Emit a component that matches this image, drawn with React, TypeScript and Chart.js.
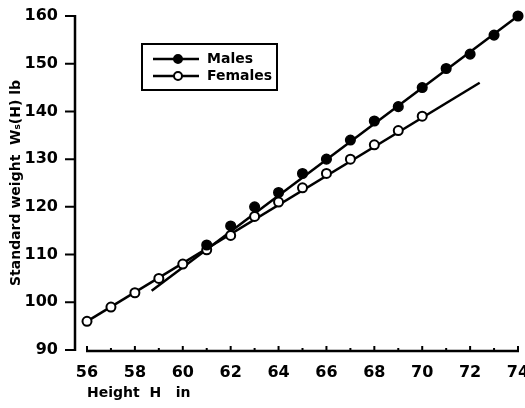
import React, { useEffect, useRef } from "react";
import { Chart, registerables } from "chart.js";

Chart.register(...registerables);

// ---- data ----
const maleHeights = [61, 62, 63, 64, 65, 66, 67, 68, 69, 70, 71, 72, 73, 74];
const maleWeights = [112, 116, 120, 123, 127, 130, 134, 138, 141, 145, 149, 152, 156, 160];

const femaleHeights = [56, 57, 58, 59, 60, 61, 62, 63, 64, 65, 66, 67, 68, 69, 70];
const femaleWeights = [96, 99, 102, 105, 108, 111, 114, 118, 121, 124, 127, 130, 133, 136, 139];

// straight fitted lines (end points)
const maleFitHeights = [58.7, 74];
const maleFitWeights = [102.4, 160];
const femaleFitHeights = [56, 72.4];
const femaleFitWeights = [96, 146];

const xTickValues = [56, 58, 60, 62, 64, 66, 68, 70, 72, 74];
const yTickValues = [90, 100, 110, 120, 130, 140, 150, 160];

const legendLabels = ["Males", "Females"];
const xTitle = "Height  H   in";
const yTitle = "Standard weight  Wₛ(H) lb";

const X_MIN = 56;
const X_MAX = 74;
const Y_MIN = 90;
const Y_MAX = 160;

const FONT = "'DejaVu Sans', sans-serif";

const toPoints = (xs: number[], ys: number[]) => xs.map((x, i) => ({ x, y: ys[i] }));

const axesPlugin = {
  id: "customAxes",
  beforeDatasetsDraw(chart: any) {
    const { ctx } = chart;
    const x = chart.scales.x;
    const y = chart.scales.y;
    const axisX = chart.chartArea.left - 12;
    const yTop = y.getPixelForValue(Y_MAX);
    const yBot = y.getPixelForValue(Y_MIN);
    ctx.save();
    ctx.strokeStyle = "#000";
    ctx.lineCap = "butt";
    // y axis
    ctx.lineWidth = 2.5;
    ctx.beginPath();
    ctx.moveTo(axisX, yTop - 1);
    ctx.lineTo(axisX, yBot + 1);
    ctx.stroke();
    ctx.lineWidth = 2;
    ctx.beginPath();
    yTickValues.forEach((v) => {
      const py = y.getPixelForValue(v);
      ctx.moveTo(axisX, py);
      ctx.lineTo(axisX - 10, py);
    });
    ctx.stroke();
    // x axis
    const axisY = yBot + 1;
    const xl = x.getPixelForValue(X_MIN);
    const xr = x.getPixelForValue(X_MAX);
    ctx.lineWidth = 2.5;
    ctx.beginPath();
    ctx.moveTo(xl - 1, axisY);
    ctx.lineTo(xr + 1, axisY);
    ctx.stroke();
    ctx.lineWidth = 2;
    ctx.beginPath();
    for (let v = X_MIN; v <= X_MAX; v++) {
      const px = x.getPixelForValue(v);
      const len = v % 2 === 0 ? 5 : 3;
      ctx.moveTo(px, axisY);
      ctx.lineTo(px, axisY - len);
    }
    ctx.stroke();
    ctx.restore();
  },
};

const legendPlugin = {
  id: "boxLegend",
  afterDatasetsDraw(chart: any) {
    const { ctx, chartArea } = chart;
    const left = chartArea.left + 55;
    const top = chartArea.top + 28;
    const w = 135;
    const h = 46;
    ctx.save();
    ctx.fillStyle = "#fff";
    ctx.fillRect(left, top, w, h);
    ctx.strokeStyle = "#000";
    ctx.lineWidth = 2;
    ctx.strokeRect(left, top, w, h);
    const fills = ["#000", "#fff"];
    legendLabels.forEach((label, i) => {
      const cy = top + 15 + i * 17;
      ctx.lineWidth = 2.5;
      ctx.beginPath();
      ctx.moveTo(left + 11, cy);
      ctx.lineTo(left + 57, cy);
      ctx.stroke();
      ctx.beginPath();
      ctx.arc(left + 36, cy, 4, 0, Math.PI * 2);
      ctx.fillStyle = fills[i];
      ctx.fill();
      ctx.lineWidth = 2;
      ctx.stroke();
      ctx.fillStyle = "#000";
      ctx.font = `bold 14px ${FONT}`;
      ctx.textBaseline = "middle";
      ctx.textAlign = "left";
      ctx.fillText(label, left + 65, cy + 0.5);
    });
    ctx.restore();
  },
};

export default function App() {
  const canvasRef = useRef<HTMLCanvasElement | null>(null);

  useEffect(() => {
    if (!canvasRef.current) return;
    const chart = new Chart(canvasRef.current, {
      type: "scatter",
      data: {
        datasets: [
          {
            label: legendLabels[0],
            data: toPoints(maleHeights, maleWeights),
            showLine: false,
            pointRadius: 4.8,
            pointBackgroundColor: "#000",
            pointBorderColor: "#000",
            pointBorderWidth: 1.5,
            clip: false,
            order: 0,
          },
          {
            label: legendLabels[1],
            data: toPoints(femaleHeights, femaleWeights),
            showLine: false,
            pointRadius: 4.5,
            pointBackgroundColor: "#fff",
            pointBorderColor: "#000",
            pointBorderWidth: 2,
            clip: false,
            order: 0,
          },
          {
            label: "male fit",
            data: toPoints(maleFitHeights, maleFitWeights),
            showLine: true,
            borderColor: "#000",
            borderWidth: 2.5,
            pointRadius: 0,
            clip: false,
            order: 1,
          },
          {
            label: "female fit",
            data: toPoints(femaleFitHeights, femaleFitWeights),
            showLine: true,
            borderColor: "#000",
            borderWidth: 2.5,
            pointRadius: 0,
            clip: false,
            order: 1,
          },
        ],
      },
      options: {
        animation: false,
        responsive: true,
        maintainAspectRatio: false,
        layout: { autoPadding: false, padding: { top: 0, right: 0, left: 0, bottom: 0 } },
        plugins: {
          legend: { display: false },
          tooltip: { enabled: false },
        },
        scales: {
          x: {
            type: "linear",
            min: X_MIN,
            max: X_MAX,
            grid: { display: false },
            border: { display: false },
            afterBuildTicks: (scale: any) => {
              scale.ticks = xTickValues.map((v) => ({ value: v }));
            },
            afterFit: (scale: any) => {
              scale.height = 58;
              scale.paddingRight = 7;
            },
            ticks: {
              color: "#000",
              font: { family: FONT, size: 16, weight: "bold" },
              padding: 5,
              maxRotation: 0,
            },
            title: {
              display: true,
              text: xTitle,
              align: "start",
              color: "#000",
              font: { family: FONT, size: 14, weight: "bold" },
              padding: { top: 0, bottom: 6 },
            },
          },
          y: {
            type: "linear",
            min: Y_MIN,
            max: Y_MAX,
            grid: { display: false },
            border: { display: false },
            afterBuildTicks: (scale: any) => {
              scale.ticks = yTickValues.map((v) => ({ value: v }));
            },
            afterFit: (scale: any) => {
              scale.width = 87;
              scale.paddingTop = 16;
            },
            ticks: {
              color: "#000",
              font: { family: FONT, size: 16, weight: "bold" },
              padding: 21,
            },
            title: {
              display: true,
              text: yTitle,
              color: "#000",
              font: { family: FONT, size: 14, weight: "bold" },
              padding: { top: 8, bottom: 0 },
            },
          },
        },
      },
      plugins: [axesPlugin, legendPlugin],
    });
    return () => chart.destroy();
  }, []);

  return (
    <div style={{ position: "absolute", left: 0, top: 0, width: 525, height: 408, background: "#fff" }}>
      <canvas ref={canvasRef} />
    </div>
  );
}
